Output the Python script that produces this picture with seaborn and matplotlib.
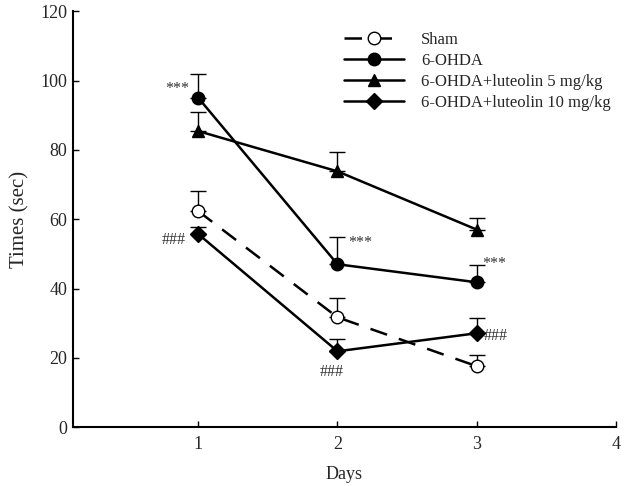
import matplotlib
matplotlib.use("Agg")
import matplotlib.pyplot as plt
import seaborn as sns
import numpy as np

days = [1, 2, 3]
sham = [62.3, 31.7, 17.6]
sham_err = [5.8, 5.5, 3.2]
ohda = [95.0, 47.0, 41.8]
ohda_err = [6.8, 8.0, 5.0]
lut5 = [85.4, 73.8, 57.0]
lut5_err = [5.6, 5.5, 3.2]
lut10 = [55.7, 21.9, 27.1]
lut10_err = [2.0, 3.4, 4.3]

sns.set_theme(style="ticks")
plt.rcParams['font.family'] = ['Liberation Serif', 'DejaVu Serif']

fig = plt.figure(figsize=(6.24, 4.86), dpi=100)
ax = fig.add_axes([0.117, 0.121, 0.870, 0.856])

series = [
    ("Sham", sham, sham_err, "o", (0, (7, 5)), "white"),
    ("6-OHDA", ohda, ohda_err, "o", "-", "black"),
    ("6-OHDA+luteolin 5 mg/kg", lut5, lut5_err, "^", "-", "black"),
    ("6-OHDA+luteolin 10 mg/kg", lut10, lut10_err, "D", "-", "black"),
]

for name, vals, err, mk, ls, fc in series:
    ax.errorbar(days, vals, yerr=[np.zeros(len(err)), err], fmt="none",
                ecolor="black", elinewidth=1.0, capsize=6, capthick=1.0, zorder=2)
    sns.lineplot(x=days, y=vals, ax=ax, color="black", linewidth=1.8,
                 linestyle=ls, marker=mk, markersize=9 if mk != "D" else 8,
                 markerfacecolor=fc, markeredgecolor="black", markeredgewidth=1.0,
                 label=name, zorder=3)

ax.set_xlim(0.1, 4.0)
ax.set_ylim(0, 120)
ax.set_xticks([1, 2, 3, 4])
ax.set_yticks(range(0, 121, 20))
ax.tick_params(direction="in", length=4, width=1, labelsize=13, pad=6, color="black")
ax.tick_params(axis="y", pad=4)
for s in ["top", "right"]:
    ax.spines[s].set_visible(False)
for s in ["left", "bottom"]:
    ax.spines[s].set_linewidth(1.5)
    ax.spines[s].set_color("black")

ax.set_xlabel("Days", fontsize=13, labelpad=10)
ax.set_ylabel("Times (sec)", fontsize=15, labelpad=8)

leg = ax.legend(loc="upper right", bbox_to_anchor=(1.018, 0.987), frameon=False,
                fontsize=12, handlelength=3.6, handletextpad=1.0, labelspacing=0.3)

ann_kw = dict(fontsize=11.5, color="#333333")
ax.text(0.935, 97.5, "***", ha="right", va="center", **ann_kw)
ax.text(2.08, 53.0, "***", ha="left", va="center", **ann_kw)
ax.text(3.04, 47.0, "***", ha="left", va="center", **ann_kw)
ax.text(0.91, 54.0, "###", ha="right", va="center", **ann_kw)
ax.text(1.96, 15.8, "###", ha="center", va="center", **ann_kw)
ax.text(3.05, 26.3, "###", ha="left", va="center", **ann_kw)

fig.savefig("out.png", dpi=100)
